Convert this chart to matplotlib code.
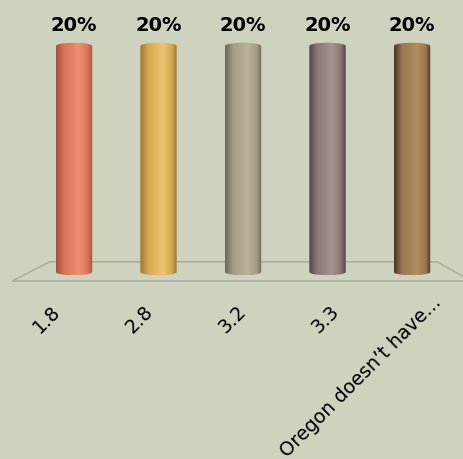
import numpy as np
import matplotlib.pyplot as plt
from matplotlib.colors import LinearSegmentedColormap
from matplotlib.patches import Polygon, PathPatch
from matplotlib.path import Path

# survey answers and their share of responses
categories = ['1.8', '2.8', '3.2', '3.3', 'Oregon doesn\u2019t have...']
percents = [20, 20, 20, 20, 20]

# three tones per cylinder: shadow edge, body, highlight
shadows = ['#A4503E', '#9C772E', '#6C6855', '#4F4347', '#48361F']
bodies = ['#DB7459', '#D6A954', '#A39D85', '#8A7773', '#9C7751']
highlights = ['#F08E72', '#EBC36F', '#B9B399', '#A5938E', '#B08D63']

BG = '#CDD3BE'
plt.rcParams['font.family'] = ['DejaVu Sans']


def cylinder_path(xc, w, h, ry, n=40):
    '''Outline of a bar drawn as an upright cylinder.'''
    t = np.linspace(np.pi, 2 * np.pi, n)
    bottom = np.column_stack([xc + w / 2 * np.cos(t), ry * np.sin(t)])
    t2 = np.linspace(0, np.pi, n)
    top = np.column_stack([xc + w / 2 * np.cos(t2), h + ry * np.sin(t2)])
    verts = np.vstack([bottom, top, bottom[:1]])
    codes = [Path.MOVETO] + [Path.LINETO] * (len(verts) - 2) + [Path.CLOSEPOLY]
    return Path(verts, codes)


fig = plt.figure(figsize=(4.64, 4.60), dpi=100, facecolor=BG)
ax = fig.add_axes([0, 0, 1, 1])
ax.set_facecolor(BG)

xs = np.arange(len(categories))
width = 0.43
ry = 0.29

# floor of the 3d plot area
floor = Polygon([(-0.29, 0.9), (4.30, 0.9), (4.70, -0.8), (-0.73, -0.8)],
                closed=True, fill=False, edgecolor='#A7AC9C', linewidth=1.1,
                zorder=1)
ax.add_patch(floor)

for x, p, s, b, hi in zip(xs, percents, shadows, bodies, highlights):
    cmap = LinearSegmentedColormap.from_list(
        'cyl', [(0.0, s), (0.22, b), (0.62, hi), (0.86, b), (1.0, s)])
    grad = np.linspace(0, 1, 128).reshape(1, -1)
    patch = PathPatch(cylinder_path(x, width, p, ry), facecolor='none',
                      edgecolor='none', zorder=2)
    ax.add_patch(patch)
    im = ax.imshow(grad, cmap=cmap, aspect='auto', zorder=2,
                   extent=[x - width / 2, x + width / 2, -ry, p + ry])
    im.set_clip_path(patch)
    ax.text(x, p + 1.9, f'{p}%', ha='center', va='center',
            fontsize=14, fontweight='bold', color='black')

# category labels, spread slightly like the front edge of the floor;
# long labels are pushed further out along their slant
for x, label in zip(xs, categories):
    push = 0.8 if len(label) > 6 else 0.0
    lx = x + 0.1 * (x - 2) + push * 0.133
    ly = -3.15 + push
    ax.text(lx, ly, label, rotation=45, rotation_mode='anchor',
            ha='right', va='center', fontsize=13.8, color='black')

ax.set_xlim(-0.876, 4.615)
ax.set_ylim(-16.55, 24.16)
ax.axis('off')

plt.savefig('out.png', dpi=100, facecolor=BG)
